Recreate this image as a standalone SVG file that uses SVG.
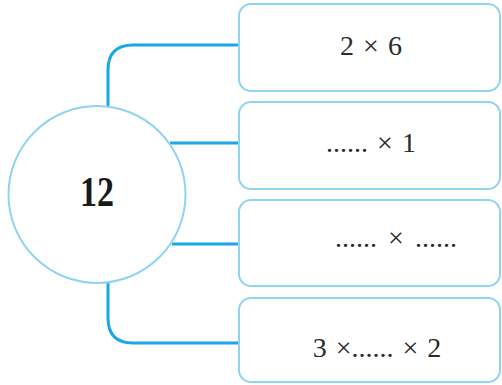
<svg xmlns="http://www.w3.org/2000/svg" width="502" height="385" viewBox="0 0 502 385">
<style>
.box{fill:#fff;stroke:#8fd4f2;stroke-width:2}
.conn{fill:none;stroke:#1ba6e8;stroke-width:3}
.t{font-family:"Liberation Serif",serif;font-size:28px;fill:#2b2b2b;text-anchor:middle}
.n{font-family:"Liberation Serif",serif;font-size:42px;font-weight:bold;fill:#1a1a1a;text-anchor:middle}
</style>
<rect width="502" height="385" fill="#fff"/>
<g id="connectors">
<path class="conn" d="M108,107 V70 Q108,45 133,45 H240"/>
<path class="conn" d="M170,143 H240"/>
<path class="conn" d="M172,244 H240"/>
<path class="conn" d="M108,282 V318 Q108,343 133,343 H240"/>
</g>
<g id="center">
<circle cx="97" cy="194.5" r="88.5" fill="#fff" stroke="#8fd4f2" stroke-width="2"/>
<text class="n" x="97" y="206" textLength="34" lengthAdjust="spacingAndGlyphs">12</text>
</g>
<g id="box1">
<rect class="box" x="239" y="4" width="261" height="87" rx="12"/>
<text class="t" x="371" y="55" word-spacing="2">2 × 6</text>
</g>
<g id="box2">
<rect class="box" x="239" y="102" width="261" height="87" rx="12"/>
<text class="t" x="371" y="152" word-spacing="2">...... × 1</text>
</g>
<g id="box3">
<rect class="box" x="239" y="200" width="261" height="86" rx="12"/>
<text class="t" x="396" y="247" word-spacing="4">...... × ......</text>
</g>
<g id="box4">
<rect class="box" x="239" y="298" width="261" height="84" rx="12"/>
<text class="t" x="377" y="357" word-spacing="2">3 ×...... × 2</text>
</g>
</svg>
